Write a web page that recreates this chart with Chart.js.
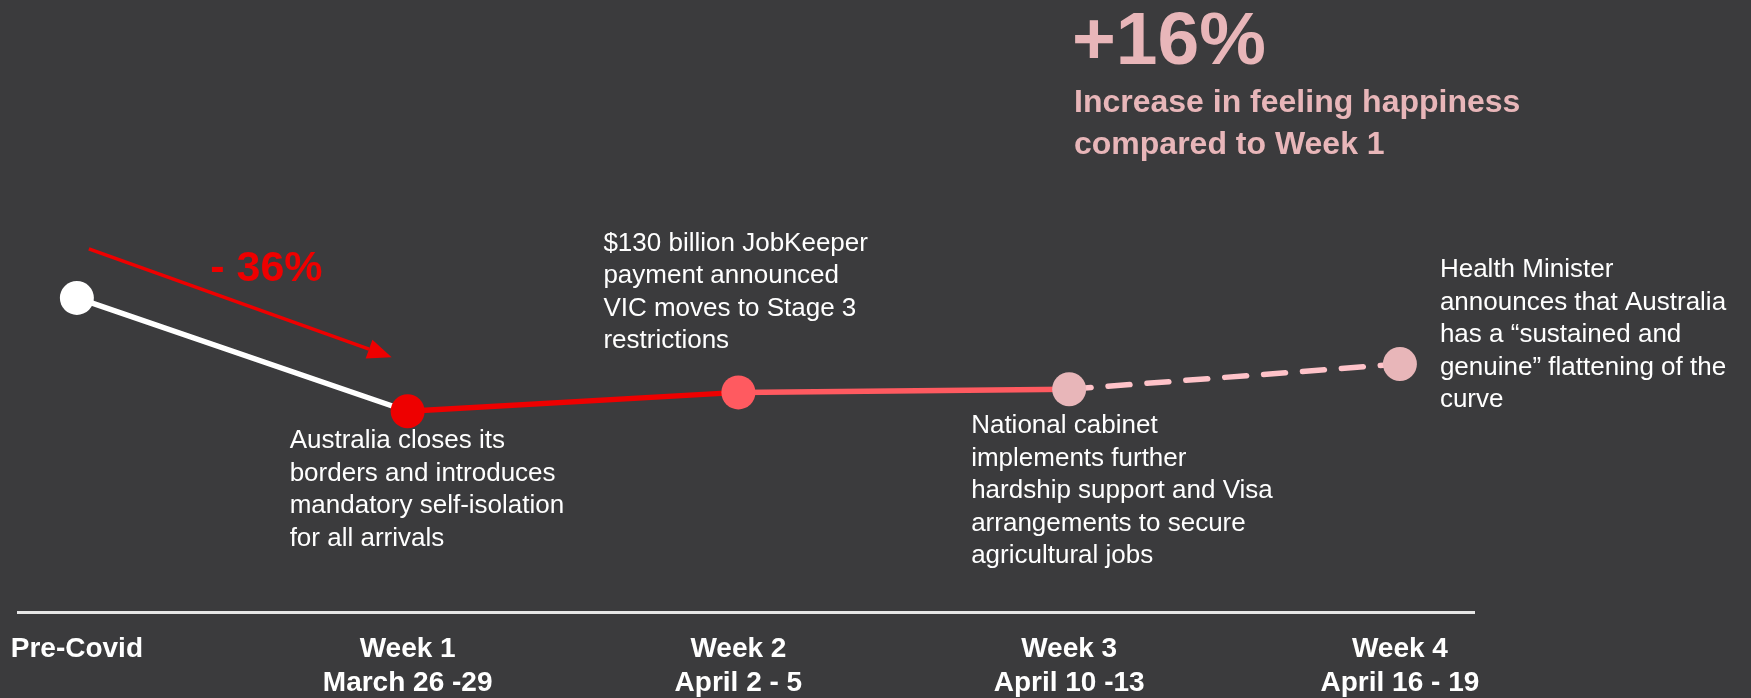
<!DOCTYPE html>
<html>
<head>
<meta charset="utf-8">
<script src="https://cdn.jsdelivr.net/npm/chart.js@4/dist/chart.umd.min.js"></script>
<style>
  html, body { margin: 0; padding: 0; background: #3b3b3d; }
  #wrap { width: 1751px; height: 698px; position: relative; }
</style>
</head>
<body>
<div id="wrap"><canvas id="canvas1"></canvas></div>
<script>
// happiness index over the first weeks of covid (schematic)
const categories = ["Pre-Covid", "Week 1", "Week 2", "Week 3", "Week 4"];
const dateRanges = ["", "March 26 -29", "April 2 - 5", "April 10 -13", "April 16 - 19"];
const happiness = [100, 64, 70, 71, 79];
const pointColors = ["#ffffff", "#ee0000", "#ff5a60", "#e8b6b9", "#e8b6b9"];
const segmentColors = ["#ffffff", "#ee0000", "#ff5a60", "#ffc3c9"];
const notes = [
  null,
  ["Australia closes its", "borders and introduces", "mandatory self-isolation", "for all arrivals"],
  ["$130 billion JobKeeper", "payment announced", "VIC moves to Stage 3", "restrictions"],
  ["National cabinet", "implements further", "hardship support and Visa", "arrangements to secure", "agricultural jobs"],
  ["Health Minister", "announces that Australia", "has a \u201csustained and", "genuine\u201d flattening of the", "curve"],
];
const dropLabel = "- 36%";
const headline = "+16%";
const headlineSub = ["Increase in feeling happiness", "compared to Week 1"];

// where each note sits relative to its point (left edge, first line centre)
const noteOffsets = [null, [-118, 30], [-135, -149], [-98, 37], [40, -94]];

const FONT = "Arial, 'Liberation Sans', Helvetica, sans-serif";
Chart.defaults.font.family = FONT;

const annotations = {
  id: "annotations",
  afterDatasetsDraw(chart) {
    const ctx = chart.ctx;
    const pts = chart.getDatasetMeta(0).data;
    ctx.save();

    // arrow above the first drop
    const p0 = pts[0], p1 = pts[1];
    const sx = p0.x + 12, sy = p0.y - 49;
    const tx = p1.x - 16, ty = p1.y - 54;
    const ang = Math.atan2(ty - sy, tx - sx);
    const headLen = 24, headW = 10;
    const bx = tx - headLen * Math.cos(ang), by = ty - headLen * Math.sin(ang);
    ctx.strokeStyle = "#ee0000";
    ctx.fillStyle = "#ee0000";
    ctx.lineWidth = 3.5;
    ctx.beginPath();
    ctx.moveTo(sx, sy);
    ctx.lineTo(bx, by);
    ctx.stroke();
    ctx.beginPath();
    ctx.moveTo(tx, ty);
    ctx.lineTo(bx + headW * Math.sin(ang), by - headW * Math.cos(ang));
    ctx.lineTo(bx - headW * Math.sin(ang), by + headW * Math.cos(ang));
    ctx.closePath();
    ctx.fill();

    ctx.font = "bold 43px " + FONT;
    ctx.textAlign = "left";
    ctx.textBaseline = "alphabetic";
    ctx.fillText(dropLabel, (sx + tx) / 2 - 30, (sy + ty) / 2 - 22);

    // notes next to each week
    ctx.fillStyle = "#ffffff";
    ctx.font = "26px " + FONT;
    ctx.textBaseline = "middle";
    notes.forEach((lines, i) => {
      if (!lines) return;
      const x = pts[i].x + noteOffsets[i][0];
      const y = pts[i].y + noteOffsets[i][1];
      lines.forEach((line, j) => ctx.fillText(line, x, y + j * 32.5));
    });

    // headline
    ctx.fillStyle = "#e8b6b9";
    ctx.textBaseline = "alphabetic";
    ctx.font = "bold 75px " + FONT;
    ctx.fillText(headline, 1072, 64);
    ctx.font = "bold 32px " + FONT;
    headlineSub.forEach((line, j) => ctx.fillText(line, 1074, 112 + j * 42));

    ctx.restore();
  },
};

const ctx1 = document.getElementById("canvas1").getContext("2d");

let myChart = new Chart(ctx1, {
  type: "line",
  data: {
    datasets: [
      {
        data: happiness.map((v, i) => ({ x: i, y: v })),
        borderWidth: 5.5,
        pointRadius: 17,
        pointHoverRadius: 17,
        pointBorderWidth: 0,
        pointBackgroundColor: pointColors,
        pointBorderColor: pointColors,
        tension: 0,
        segment: {
          borderColor: (c) => segmentColors[c.p0DataIndex],
          borderDash: (c) => (c.p0DataIndex === 3 ? [22, 17] : undefined),
        },
        borderCapStyle: "round",
      },
    ],
  },
  options: {
    responsive: true,
    maintainAspectRatio: false,
    animation: false,
    events: [],
    // tick padding counts twice in the axis height, so pull the bottom back
    layout: { padding: { left: 18, right: 277, top: 46, bottom: -22 } },
    scales: {
      x: {
        type: "linear",
        min: -0.178,
        max: 4.224,
        afterBuildTicks: (s) => {
          s.ticks = categories.map((c, i) => ({ value: i }));
        },
        // labels may hang past the axis ends, like on the slide
        afterFit: (s) => {
          s.paddingLeft = 0;
          s.paddingRight = 0;
        },
        grid: { display: false, drawTicks: false },
        border: { display: true, color: "#e6e6e6", width: 3 },
        ticks: {
          autoSkip: false,
          maxRotation: 0,
          padding: 20,
          color: "#ffffff",
          font: { family: FONT, size: 28, weight: "bold", lineHeight: 1.2 },
          callback: (v) => (dateRanges[v] ? [categories[v], dateRanges[v]] : [categories[v], ""]),
        },
      },
      y: {
        display: false,
        min: 0,
        max: 180,
      },
    },
    plugins: {
      legend: { display: false },
      tooltip: { enabled: false },
    },
  },
  plugins: [annotations],
});
</script>
</body>
</html>
